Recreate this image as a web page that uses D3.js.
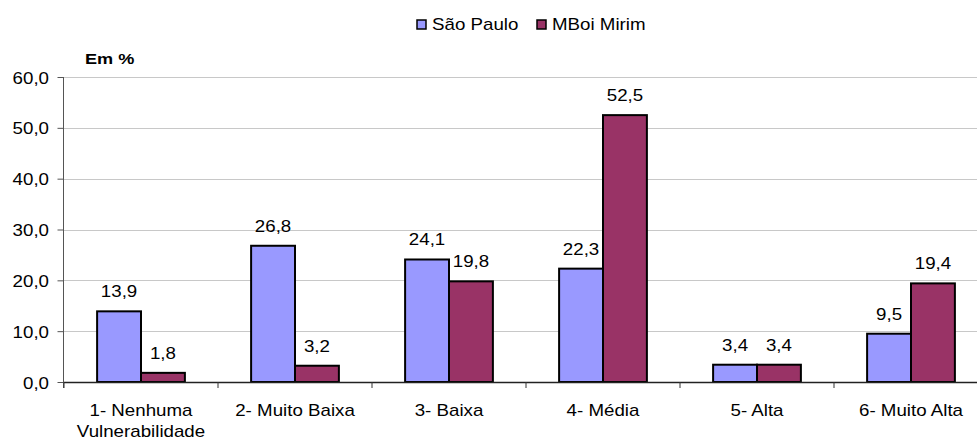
<!DOCTYPE html>
<html>
<head>
<meta charset="utf-8">
<script src="https://cdn.jsdelivr.net/npm/d3@7"></script>
<style>
  body { margin: 0; background: #fff; }
  text { font-family: "Liberation Sans", Arial, sans-serif; fill: #000; }
</style>
</head>
<body>
<svg id="chart"></svg>
<script>
// Data
const categories = [
  ["1- Nenhuma", "Vulnerabilidade"],
  ["2- Muito Baixa"],
  ["3- Baixa"],
  ["4- Média"],
  ["5- Alta"],
  ["6- Muito Alta"]
];
const seriesNames = ["São Paulo", "MBoi Mirim"];
const saoPaulo = [13.9, 26.8, 24.1, 22.3, 3.4, 9.5];
const mboiMirim = [1.8, 3.2, 19.8, 52.5, 3.4, 19.4];
const yTicks = [0, 10, 20, 30, 40, 50, 60];

const colors = ["#9999FF", "#993366"];

const width = 977, height = 441;
const plot = { left: 64, right: 988, top: 77, bottom: 382 };
const SX = 1.17; // text in the reference is stretched horizontally

const svg = d3.select("#chart").attr("width", width).attr("height", height);

// draws stretched text anchored at (x, y)
function label(parent, x, y, str, opts = {}) {
  return parent.append("text")
    .attr("transform", `translate(${x},${y}) scale(${SX},1)`)
    .attr("text-anchor", opts.anchor || "middle")
    .style("font-size", (opts.size || 16) + "px")
    .style("font-weight", opts.weight || "normal")
    .text(str);
}

const x = d3.scaleBand()
  .domain(d3.range(categories.length))
  .range([plot.left, plot.right]);

const barW = x.bandwidth() * 0.285;
const xs = d3.scaleBand()
  .domain([0, 1])
  .range([x.bandwidth() / 2 - barW, x.bandwidth() / 2 + barW]);

const y = d3.scaleLinear().domain([0, 60]).range([plot.bottom, plot.top]);

const fmt = v => d3.format(".1f")(v).replace(".", ",");

// gridlines
svg.append("g")
  .selectAll("line")
  .data(yTicks.slice(1))
  .join("line")
  .attr("x1", plot.left).attr("x2", width)
  .attr("y1", d => Math.round(y(d)) + 0.5).attr("y2", d => Math.round(y(d)) + 0.5)
  .attr("stroke", "#c8c8c8").attr("stroke-width", 1);

// y axis
const yAxis = svg.append("g")
  .attr("transform", `translate(${plot.left - 0.5},0)`)
  .call(d3.axisLeft(y).tickValues(yTicks).tickSize(6).tickFormat(fmt));
yAxis.select(".domain").attr("stroke", "#555").attr("d", `M0,${plot.top}V${plot.bottom + 6}`);
yAxis.selectAll(".tick line").attr("stroke", "#555");
yAxis.selectAll(".tick text")
  .attr("x", null).attr("dy", null)
  .attr("transform", `translate(-14.5,6) scale(${SX},1)`)
  .style("font-size", "16px").attr("fill", "#000")
  .style("font-family", "'Liberation Sans', Arial, sans-serif");

// bars
const series = [saoPaulo, mboiMirim];
series.forEach((vals, s) => {
  const g = svg.append("g");
  g.selectAll("rect")
    .data(vals)
    .join("rect")
    .attr("x", (d, i) => x(i) + xs(s))
    .attr("y", d => y(d))
    .attr("width", xs.bandwidth())
    .attr("height", d => y(0) - y(d))
    .attr("fill", colors[s])
    .attr("stroke", "#000")
    .attr("stroke-width", 2);
  vals.forEach((v, i) => {
    label(g, x(i) + xs(s) + xs.bandwidth() / 2, y(v) - 14, fmt(v));
  });
});

// x axis
svg.append("line")
  .attr("x1", plot.left).attr("x2", width)
  .attr("y1", plot.bottom + 0.5).attr("y2", plot.bottom + 0.5)
  .attr("stroke", "#222").attr("stroke-width", 1.5);
svg.append("g")
  .selectAll("line")
  .data(d3.range(categories.length + 1))
  .join("line")
  .attr("x1", i => plot.left + i * x.bandwidth())
  .attr("x2", i => plot.left + i * x.bandwidth())
  .attr("y1", plot.bottom).attr("y2", plot.bottom + 6)
  .attr("stroke", "#333");

// category labels
const catG = svg.append("g");
categories.forEach((lines, i) => {
  lines.forEach((l, j) => {
    label(catG, x(i) + x.bandwidth() / 2, 416 + j * 21, l);
  });
});

// unit label
label(svg, 85, 64, "Em %", { anchor: "start", size: 15.5, weight: "bold" });

// legend
const legendX = [417, 537];
const legend = svg.append("g");
seriesNames.forEach((name, i) => {
  legend.append("rect")
    .attr("x", legendX[i]).attr("y", 20)
    .attr("width", 9).attr("height", 9)
    .attr("fill", colors[i]).attr("stroke", "#000").attr("stroke-width", 1.5);
  label(legend, legendX[i] + 15, 30, name, { anchor: "start", size: 16 });
});
</script>
</body>
</html>
